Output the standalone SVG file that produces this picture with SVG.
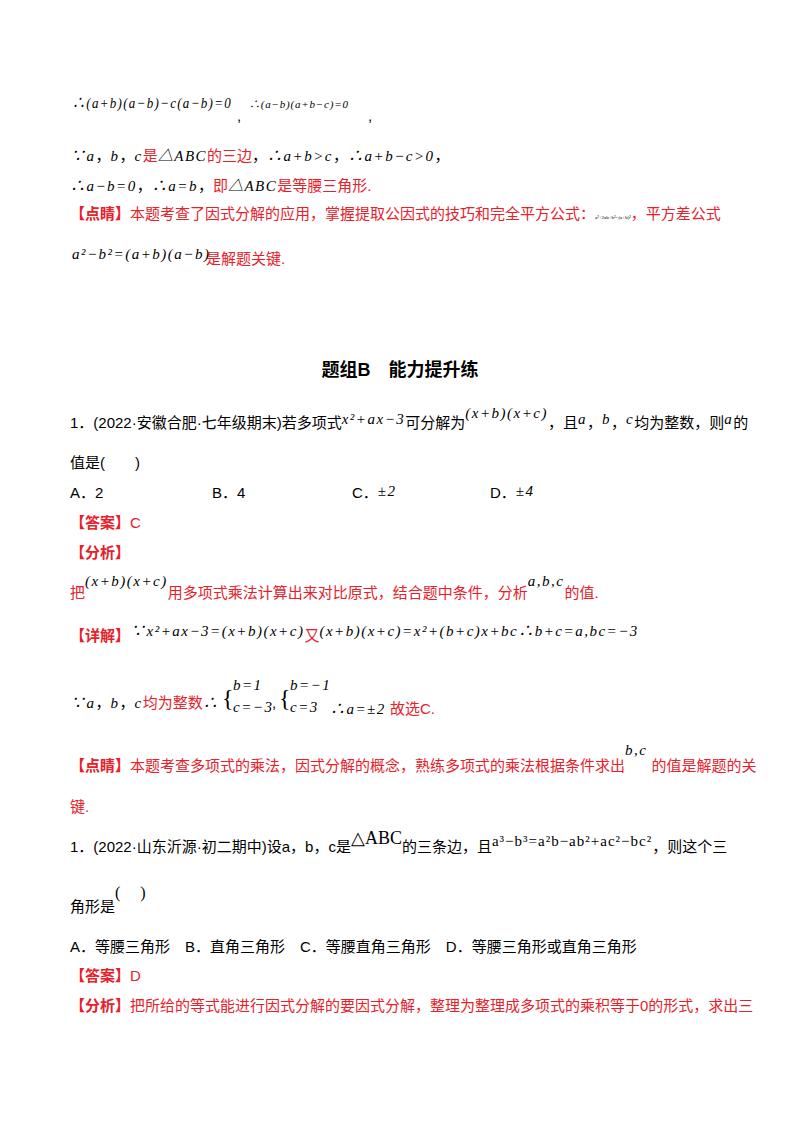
<svg xmlns="http://www.w3.org/2000/svg" width="800" height="1132" viewBox="0 0 800 1132">
<style>
text{font-family:"Liberation Sans","Noto Sans CJK SC",sans-serif;font-size:15px;fill:#000}
.r{fill:#e8202a}
.m{font-family:"Liberation Serif","Noto Sans CJK SC",serif;font-style:italic;font-size:15px;letter-spacing:1.5px}
.s{font-size:11px;letter-spacing:0.8px}
.b{font-weight:bold}
</style>
<rect width="800" height="1132" fill="#fff"/>
<g id="p1">
<text x="72" y="108" class="m" textLength="160" lengthAdjust="spacingAndGlyphs">∴(a+b)(a−b)−c(a−b)=0</text>
<text x="237" y="121">,</text>
<text x="249" y="108" class="m s">∴(a−b)(a+b−c)=0</text>
<text x="368" y="121">,</text>
<text x="70" y="161"><tspan class="m">∵a</tspan>，<tspan class="m">b</tspan>，<tspan class="m">c</tspan><tspan class="r">是</tspan><tspan class="m">△ABC</tspan><tspan class="r">的三边</tspan>，<tspan class="m">∴a+b&gt;c</tspan>，<tspan class="m">∴a+b−c&gt;0</tspan>，</text>
<text x="70" y="191"><tspan class="m">∴a−b=0</tspan>，<tspan class="m">∴a=b</tspan>，<tspan class="r">即</tspan><tspan class="m">△ABC</tspan><tspan class="r">是等腰三角形.</tspan></text>
<text x="70" y="219" class="r"><tspan class="b">【点睛】</tspan>本题考查了因式分解的应用，掌握提取公因式的技巧和完全平方公式：<tspan fill="#000" style="font-size:5px;font-family:'Liberation Serif',serif">a²+2ab+b²=(a+b)²</tspan>，平方差公式</text>
<text x="72" y="259" class="m">a²−b²=(a+b)(a−b)</text>
<text x="206" y="264" class="r">是解题关键.</text>
</g>
<g id="title"><text x="400" y="376" text-anchor="middle" class="b" style="font-size:18px">题组B　能力提升练</text></g>
<g id="q1">
<text x="70" y="428">1．(2022·安徽合肥·七年级期末)若多项式<tspan class="m" dy="-4">x²+ax−3</tspan><tspan dy="4">可分解为</tspan><tspan class="m" dy="-10">(x+b)(x+c)</tspan><tspan dy="10">，且</tspan><tspan class="m" dy="-4">a</tspan><tspan dy="4">，</tspan><tspan class="m" dy="-4">b</tspan><tspan dy="4">，</tspan><tspan class="m" dy="-4">c</tspan><tspan dy="4">均为整数，则</tspan><tspan class="m" dy="-4">a</tspan><tspan dy="4">的</tspan></text>
<text x="70" y="468">值是(　　)</text>
<text x="70" y="498">A．2</text><text x="212" y="498">B．4</text><text x="352" y="498">C．<tspan class="m" dy="-2">±2</tspan></text><text x="490" y="498">D．<tspan class="m" dy="-2">±4</tspan></text>
<text x="70" y="528" class="r"><tspan class="b">【答案】</tspan>C</text>
<text x="70" y="558" class="r b">【分析】</text>
<text x="70" y="598" class="r">把<tspan class="m" fill="#000" dy="-12">(x+b)(x+c)</tspan><tspan dy="12">用多项式乘法计算出来对比原式，结合题中条件，分析</tspan><tspan class="m" fill="#000" dy="-12">a,b,c</tspan><tspan dy="12">的值.</tspan></text>
<text x="70" y="641" class="r"><tspan class="b">【详解】</tspan><tspan class="m" fill="#000" dy="-5">∵x²+ax−3=(x+b)(x+c)</tspan><tspan dy="5">又</tspan><tspan class="m" fill="#000" dy="-5">(x+b)(x+c)=x²+(b+c)x+bc</tspan><tspan class="m" fill="#000">∴b+c=a,bc=−3</tspan></text>
<text x="70" y="708"><tspan class="m">∵a</tspan>，<tspan class="m">b</tspan>，<tspan class="m">c</tspan><tspan class="r">均为整数</tspan><tspan class="m">∴</tspan></text>
<text x="222" y="706" style="font-family:'Liberation Serif',serif;font-size:24px">{</text>
<text x="233" y="690" class="m">b=1</text><text x="233" y="712" class="m">c=−3</text><text x="272" y="708">,</text>
<text x="279" y="706" style="font-family:'Liberation Serif',serif;font-size:24px">{</text>
<text x="290" y="690" class="m">b=−1</text><text x="290" y="712" class="m">c=3</text>
<text x="330" y="714"><tspan class="m">∴a=±2</tspan> <tspan class="r">故选C.</tspan></text>
<text x="70" y="771" class="r"><tspan class="b">【点睛】</tspan>本题考查多项式的乘法，因式分解的概念，熟练多项式的乘法根据条件求出<tspan class="m" fill="#000" dy="-16">b,c</tspan><tspan dx="4" dy="16">的值是解题的关</tspan></text>
<text x="70" y="812" class="r">键.</text>
</g>
<g id="q2">
<text x="70" y="852">1．(2022·山东沂源·初二期中)设a，b，c是<tspan style="font-family:'Liberation Serif',serif;font-size:18px" dy="-8">△ABC</tspan><tspan dy="8">的三条边，且</tspan><tspan style="font-family:'Liberation Serif',serif;font-size:15px;letter-spacing:1px" dy="-6">a³−b³=a²b−ab²+ac²−bc²</tspan><tspan dy="6">，则这个三</tspan></text>
<text x="70" y="912">角形是<tspan style="font-family:'Liberation Serif',serif;font-size:16px" dy="-14">(　 )</tspan></text>
<text x="70" y="952">A．等腰三角形　B．直角三角形　C．等腰直角三角形　D．等腰三角形或直角三角形</text>
<text x="70" y="981" class="r"><tspan class="b">【答案】</tspan>D</text>
<text x="70" y="1011" class="r"><tspan class="b">【分析】</tspan>把所给的等式能进行因式分解的要因式分解，整理为整理成多项式的乘积等于0的形式，求出三</text>
</g>
</svg>
